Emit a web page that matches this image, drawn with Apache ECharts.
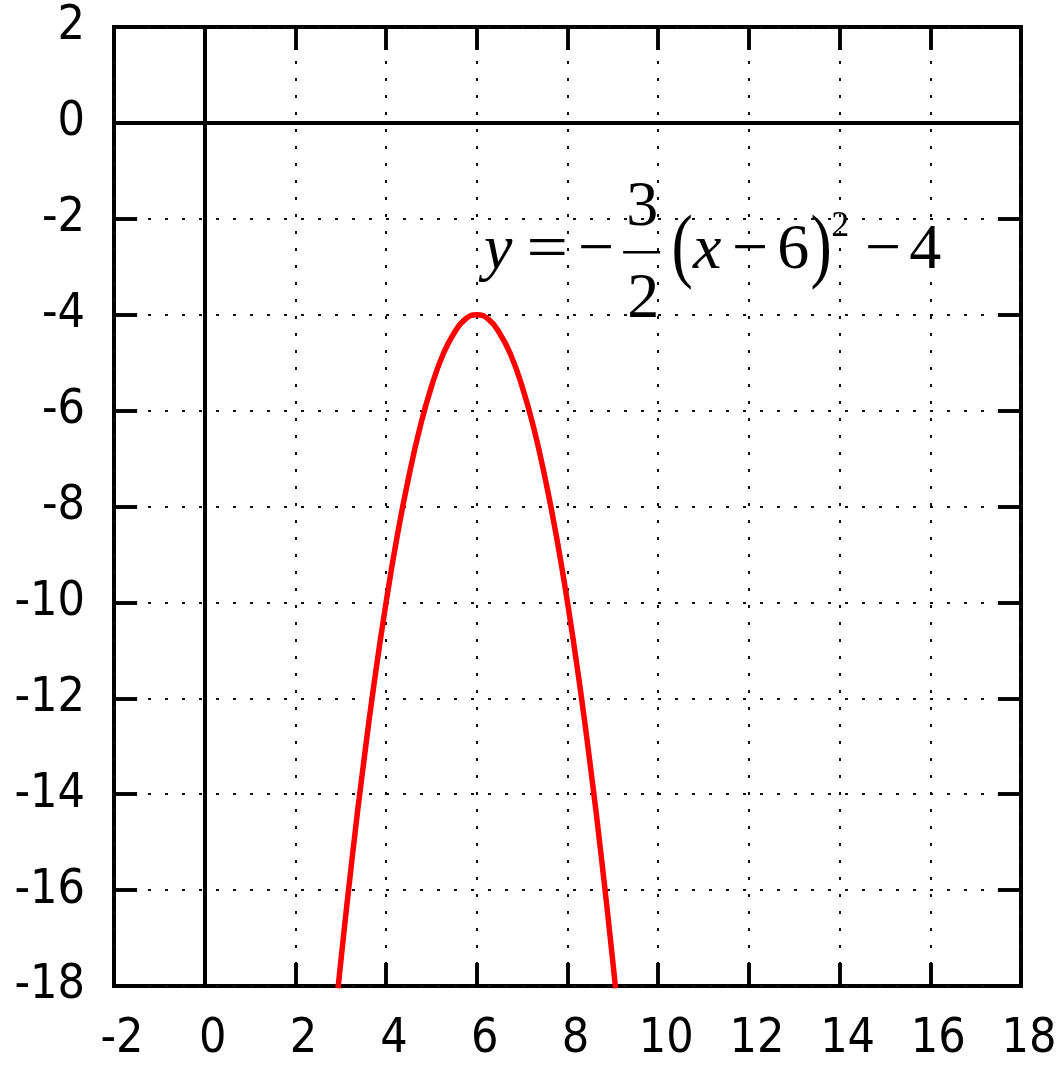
<!DOCTYPE html>
<html>
<head>
<meta charset="utf-8">
<script src="https://cdn.jsdelivr.net/npm/echarts@6/dist/echarts.min.js"></script>
<style>
  html, body { margin: 0; padding: 0; background: #fff; }
  #chart { width: 1061px; height: 1066px; }
</style>
</head>
<body>
<div id="chart"></div>
<script>
// Tick values on both axes
const xTickValues = [-2, 0, 2, 4, 6, 8, 10, 12, 14, 16, 18];
const yTickValues = [-18, -16, -14, -12, -10, -8, -6, -4, -2, 0, 2];

// Sampled points of the parabola y = -3/2 (x-6)^2 - 4
const curveX = [2.94, 3, 3.25, 3.5, 3.75, 4, 4.25, 4.5, 4.75, 5, 5.25, 5.5, 5.75, 6,
                6.25, 6.5, 6.75, 7, 7.25, 7.5, 7.75, 8, 8.25, 8.5, 8.75, 9, 9.06];
const curveY = [-18.05, -17.5, -15.34, -13.38, -11.59, -10, -8.59, -7.38, -6.34, -5.5, -4.84, -4.38, -4.09, -4,
                -4.09, -4.38, -4.84, -5.5, -6.34, -7.38, -8.59, -10, -11.59, -13.38, -15.34, -17.5, -18.05];

// Where the equation text sits (left end of its baseline), in data units
const formulaAnchor = [6.14, -3.08];

const curveData = curveX.map((x, i) => [x, curveY[i]]);

const labelFont = "'DejaVu Sans Condensed', 'DejaVu Sans', sans-serif";
const mathFont = "'Liberation Serif', 'Times New Roman', serif";

const xMin = xTickValues[0], xMax = xTickValues[xTickValues.length - 1];
const yMin = yTickValues[0], yMax = yTickValues[yTickValues.length - 1];
const xStep = xTickValues[1] - xTickValues[0];
const yStep = yTickValues[1] - yTickValues[0];

// Tick length expressed along each axis (about 23px on screen)
const TICK_DX = 0.51, TICK_DY = 0.48;
const tickStyle = { color: '#000', width: 3.5, type: 'solid' };
const zeroStyle = { color: '#000', width: 4, type: 'solid' };

function axisTick() {
  return { show: true, inside: true, length: 23, lineStyle: { color: '#000', width: 3.5 } };
}
const hiddenLine = () => ({ show: false, onZero: false });
const gridDots = { show: true, lineStyle: { color: '#111', width: 2, type: [3, 14] } };
const labelStyle = { color: '#000', fontSize: 48, fontFamily: labelFont };

// Zero axes plus inward tick marks on all four frame sides
const frameMarks = [
  { xAxis: 0, lineStyle: zeroStyle },
  { yAxis: 0, lineStyle: zeroStyle }
];
xTickValues.slice(1, -1).forEach(v => {
  frameMarks.push([{ coord: [v, yMin], lineStyle: tickStyle }, { coord: [v, yMin + TICK_DY] }]);
  frameMarks.push([{ coord: [v, yMax], lineStyle: tickStyle }, { coord: [v, yMax - TICK_DY] }]);
});
yTickValues.slice(1, -1).forEach(v => {
  frameMarks.push([{ coord: [xMin, v], lineStyle: tickStyle }, { coord: [xMin + TICK_DX, v] }]);
  frameMarks.push([{ coord: [xMax, v], lineStyle: tickStyle }, { coord: [xMax - TICK_DX, v] }]);
});

const chart = echarts.init(document.getElementById('chart'), null, { renderer: 'canvas' });

chart.setOption({
  animation: false,
  backgroundColor: '#fff',
  grid: {
    left: 114, right: 40, top: 27, bottom: 80,
    show: true, borderColor: '#000', borderWidth: 4, backgroundColor: 'transparent'
  },
  xAxis: [
    {
      type: 'value', min: xMin, max: xMax, interval: xStep, position: 'bottom',
      axisLine: hiddenLine(),
      axisTick: axisTick(),
      splitLine: gridDots,
      axisLabel: Object.assign({ margin: 30, padding: [0, 0, 0, 16] }, labelStyle)
    },
    {
      type: 'value', min: xMin, max: xMax, interval: xStep, position: 'top',
      axisLine: hiddenLine(), axisTick: axisTick(),
      splitLine: { show: false }, axisLabel: { show: false }
    }
  ],
  yAxis: [
    {
      type: 'value', min: yMin, max: yMax, interval: yStep, position: 'left',
      axisLine: hiddenLine(),
      axisTick: axisTick(),
      splitLine: gridDots,
      axisLabel: Object.assign({ margin: 29 }, labelStyle)
    },
    {
      type: 'value', min: yMin, max: yMax, interval: yStep, position: 'right',
      axisLine: hiddenLine(), axisTick: axisTick(),
      splitLine: { show: false }, axisLabel: { show: false }
    }
  ],
  series: [
    {
      type: 'line',
      data: curveData,
      smooth: true,
      showSymbol: false,
      clip: true,
      lineStyle: { color: '#ff0000', width: 5.5 },
      z: 5,
      markLine: {
        silent: true,
        symbol: 'none',
        label: { show: false },
        lineStyle: zeroStyle,
        data: frameMarks,
        z: 3
      }
    }
  ]
});

// Equation drawn as separate glyphs around the anchor point
const p = chart.convertToPixel({ xAxisIndex: 0, yAxisIndex: 0 }, formulaAnchor);
const ax = p[0], ay = p[1];
function glyph(text, cx, cy, size, opts) {
  opts = opts || {};
  return {
    type: 'text', x: ax + cx, y: ay + cy, z: 20,
    scaleX: opts.sx || 1, scaleY: opts.sy || 1,
    style: {
      text: text, fill: '#000', fontSize: size, fontFamily: mathFont,
      fontStyle: opts.italic ? 'italic' : 'normal',
      align: 'center', verticalAlign: 'middle'
    }
  };
}
chart.setOption({
  graphic: [
    glyph('y', 15, -19, 64, { italic: true }),
    glyph('=', 64, -19, 64, { sx: 1.15 }),
    glyph('\u2212', 113, -19, 64),
    glyph('3', 159, -62, 64),
    { type: 'rect', z: 20, shape: { x: ax + 140, y: ay - 19.5, width: 37, height: 2.5 }, style: { fill: '#000' } },
    glyph('2', 160, 30, 64),
    glyph('(', 199, -20, 64, { sy: 1.3 }),
    glyph('x', 224, -19, 64, { italic: true }),
    glyph('\u2212', 267, -19, 64),
    glyph('6', 310, -19, 64),
    glyph(')', 338, -20, 64, { sy: 1.3 }),
    glyph('2', 357, -44, 36),
    glyph('\u2212', 400, -19, 64),
    glyph('4', 442, -19, 64)
  ]
});
</script>
</body>
</html>
